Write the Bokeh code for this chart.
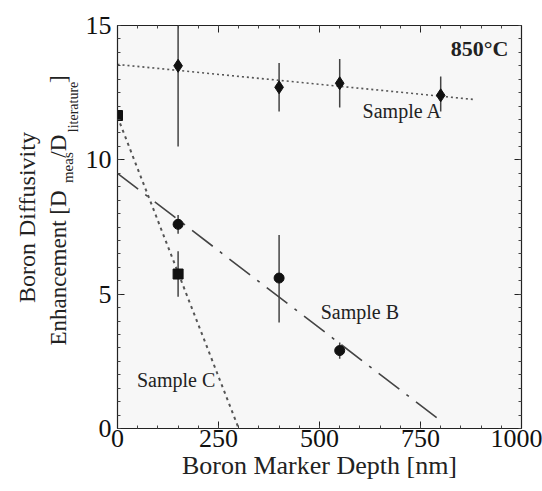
import math
from bokeh.plotting import figure
from bokeh.models import Range1d, LinearAxis, Label, FixedTicker
from bokeh.layouts import row
from bokeh.embed import file_html
from bokeh.resources import INLINE
from bokeh.core.properties import value

# ---- data ----
a_x = [150, 400, 550, 800]
a_y = [13.5, 12.7, 12.85, 12.4]
a_lo = [10.5, 11.8, 11.95, 11.8]
a_hi = [16.5, 13.6, 13.75, 13.1]

b_x = [150, 400, 550]
b_y = [7.6, 5.6, 2.9]
b_lo = [7.25, 3.95, 2.6]
b_hi = [7.95, 7.2, 3.2]

c_x = [0, 150]
c_y = [11.65, 5.75]
c_lo = [11.65, 4.9]
c_hi = [11.65, 6.6]

a_fit_x = [0, 880]
a_fit_y = [13.55, 12.25]
b_fit_x = [0, 790]
b_fit_y = [9.5, 0.4]
c_fit_x = [0, 300]
c_fit_y = [11.6, 0.0]

x_ticks = [0, 250, 500, 750, 1000]
y_ticks = [0, 5, 10, 15]

FONT = "Liberation Serif"
TXT = "#222222"

LEFT_W = 82
p = figure(width=542 - LEFT_W, height=491, output_backend="svg", toolbar_location=None,
           x_range=Range1d(0, 1000), y_range=Range1d(0, 15),
           min_border_left=117 - LEFT_W, min_border_right=21, min_border_top=25,
           min_border_bottom=63)
p.background_fill_color = "#f7f7f7"
p.border_fill_color = "white"
p.outline_line_color = "#222222"
p.outline_line_width = 1.2
p.xgrid.visible = False
p.ygrid.visible = False

def style_axis(ax, ticks, minor, show_labels):
    ax.ticker = FixedTicker(ticks=ticks, minor_ticks=minor)
    ax.major_tick_in = 7
    ax.major_tick_out = 0
    ax.minor_tick_in = 3
    ax.minor_tick_out = 0
    ax.axis_line_color = "#222222"
    ax.major_tick_line_color = "#222222"
    ax.minor_tick_line_color = "#444444"
    ax.major_label_text_font = FONT
    ax.major_label_text_color = "#111111"
    if show_labels:
        ax.major_label_text_font_size = "26px"
    else:
        ax.major_label_text_font_size = "0px"
        ax.major_label_text_alpha = 0

x_minor = [v for v in range(0, 1001, 50)]
y_minor = [v / 2 for v in range(0, 31)]

style_axis(p.xaxis[0], x_ticks, x_minor, True)
style_axis(p.yaxis[0], y_ticks, y_minor, True)
p.xaxis[0].major_label_standoff = 1
p.yaxis[0].major_label_standoff = 6
p.xaxis[0].axis_label = "Boron Marker Depth [nm]"
p.xaxis[0].axis_label_text_font = FONT
p.xaxis[0].axis_label_text_font_size = "26px"
p.xaxis[0].axis_label_text_font_style = "normal"
p.xaxis[0].axis_label_text_color = TXT
p.xaxis[0].axis_label_standoff = 1

top = LinearAxis()
style_axis(top, x_ticks, x_minor, False)
p.add_layout(top, "above")
right = LinearAxis()
style_axis(right, y_ticks, y_minor, False)
p.add_layout(right, "right")

# fit lines
p.line(a_fit_x, a_fit_y, line_color="#555555", line_width=1.6, line_dash="2 3")
p.line(b_fit_x, b_fit_y, line_color="#444444", line_width=1.6, line_dash="26 9 3 9")
p.line(c_fit_x, c_fit_y, line_color="#555555", line_width=2.0, line_dash="3 4")

# error bars
p.segment(a_x, a_lo, a_x, a_hi, line_color="#444444", line_width=1.5)
p.segment(b_x, b_lo, b_x, b_hi, line_color="#444444", line_width=1.5)
p.segment(c_x, c_lo, c_x, c_hi, line_color="#444444", line_width=1.5)

# markers
p.scatter(a_x, a_y, marker="diamond", size=13, color="#111111")
p.scatter(b_x, b_y, marker="circle", size=10, color="#111111")
p.scatter(c_x, c_y, marker="square", size=10, color="#111111")

def add_text(x, y, t, size, **kw):
    p.add_layout(Label(x=x, y=y, text=t, text_font=FONT, text_font_size=size,
                       text_color=TXT, **kw))

add_text(896, 14.15, "850°C", "22px", text_align="center", text_baseline="middle",
         text_font_style="bold")
add_text(705, 11.8, "Sample A", "20px", text_align="center", text_baseline="middle")
add_text(600, 4.35, "Sample B", "20px", text_align="center", text_baseline="middle")
add_text(145, 1.8, "Sample C", "20px", text_align="center", text_baseline="middle")

# ---- left strip holding the y axis title ----
H = 491
q = figure(width=LEFT_W, height=H, output_backend="svg", toolbar_location=None,
           x_range=Range1d(0, LEFT_W), y_range=Range1d(0, H),
           x_axis_type=None, y_axis_type=None, min_border=0)
q.outline_line_color = None
q.background_fill_color = "white"
q.border_fill_color = "white"
q.xgrid.visible = False
q.ygrid.visible = False

r = math.pi / 2
def ytitle(t, cx, cy, size, align="left", baseline="alphabetic"):
    q.text(x=[cx], y=[H - cy], text=[t], angle=r, text_font=value(FONT),
           text_font_size=size, text_color=TXT, text_align=align, text_baseline=baseline)

ytitle("Boron Diffusivity", 26, 234, "24px", align="center", baseline="middle")
ytitle("Enhancement [D", 58, 390, "23px")
ytitle("meas", 67, 192, "15px")
ytitle("/D", 58, 161, "23px")
ytitle("literature", 73, 130, "14px")
ytitle("]", 58, 70, "23px")

layout = row(q, p)
open("out.html", "w").write(file_html(layout, INLINE))
